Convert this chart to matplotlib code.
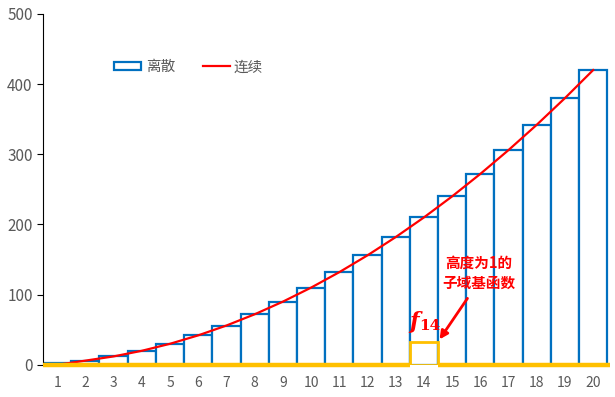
import matplotlib.pyplot as plt
from matplotlib.patches import Patch
from matplotlib.lines import Line2D

plt.rcParams['font.family'] = ['Noto Sans CJK SC', 'DejaVu Sans']

# values
positions = list(range(1, 21))
discrete = [2, 6, 12, 20, 30, 42, 56, 72, 90, 110,
            132, 156, 182, 210, 240, 272, 306, 342, 380, 420]
continuous = [0, 6, 12, 20, 30, 42, 56, 72, 90, 110,
              132, 156, 182, 210, 240, 272, 306, 342, 380, 420]
basis_pos = 14
basis_height = 32
y_ticks = [0, 100, 200, 300, 400, 500]

blue = '#0070C0'
yellow = '#FFC000'
red = '#FF0000'
grey = '#595959'

fig = plt.figure(figsize=(6.15, 3.97), dpi=100)
ax = fig.add_axes([0.07, 0.081, 0.922, 0.884])

ax.bar(positions, discrete, width=1.0, facecolor='white',
       edgecolor=blue, linewidth=1.6, zorder=2)
ax.plot(positions, continuous, color=red, linewidth=1.6, zorder=3)

# sub-domain basis function
ax.bar([basis_pos], [basis_height], width=1.0, facecolor='none',
       edgecolor=yellow, linewidth=2.0, zorder=4)
ax.hlines([0, 0], [0.5, basis_pos + 0.5], [basis_pos - 0.5, 20.6],
          colors=yellow, linewidth=3.2, zorder=5, clip_on=False)

ax.text(13.5, 52, 'f', color=red, fontsize=16, fontweight='bold',
        fontstyle='italic', family='DejaVu Serif', zorder=6)
ax.text(13.85, 49, '14', color=red, fontsize=11, fontweight='bold',
        family='DejaVu Serif', zorder=6)
ax.annotate('', xy=(14.5, 33), xytext=(15.6, 98),
            arrowprops=dict(arrowstyle='-|>', color=red, lw=2,
                            mutation_scale=12), zorder=6)
ax.text(15.95, 131, '高度为1的\n子域基函数', color=red, fontsize=10.5,
        fontweight='bold', ha='center', va='center', linespacing=1.3,
        zorder=6)

ax.set_xlim(0.5, 20.6)
ax.set_ylim(0, 500)
ax.set_xticks(positions)
ax.set_yticks(y_ticks)
ax.tick_params(axis='x', length=0, labelsize=10, labelcolor=grey, pad=8)
ax.tick_params(axis='y', length=4, direction='out', labelsize=11,
               labelcolor=grey, color='black')

for side in ['top', 'right', 'bottom']:
    ax.spines[side].set_visible(False)
ax.spines['left'].set_color('black')

handles = [Patch(facecolor='white', edgecolor=blue, linewidth=1.6),
           Line2D([0], [0], color=red, linewidth=1.6)]
ax.legend(handles, ['离散', '连续'], loc='center', ncol=2,
          bbox_to_anchor=(0.257, 0.848), frameon=False, fontsize=10.5,
          labelcolor=grey, handlelength=1.85, handleheight=0.55,
          handletextpad=0.3, columnspacing=1.9)

plt.savefig('out.png', dpi=100)
